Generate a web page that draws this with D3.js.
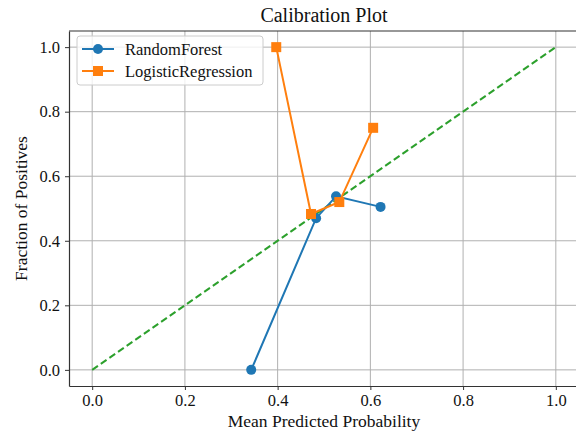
<!DOCTYPE html>
<html>
<head>
<meta charset="utf-8">
<script src="https://cdn.jsdelivr.net/npm/d3@7"></script>
<style>
  body { margin: 0; background: #fff; }
  svg { display: block; font-family: "Liberation Serif", "DejaVu Serif", serif; }
</style>
</head>
<body>
<div id="wrapper"></div>
<script>
// data
const rfX = [0.343, 0.483, 0.526, 0.622];
const rfY = [0.0, 0.470, 0.538, 0.505];
const lrX = [0.397, 0.472, 0.533, 0.606];
const lrY = [1.0, 0.483, 0.520, 0.750];
const refLine = [0, 1];
const tickVals = [0, 0.2, 0.4, 0.6, 0.8, 1.0];
const seriesNames = ["RandomForest", "LogisticRegression"];

function buildPlot() {
    const dimension = {
        width: 576,
        height: 431,
        margin: { top: 31, left: 69, bottom: 45, right: -3 }
    };
    dimension.boundedWidth = dimension.width - dimension.margin.left - dimension.margin.right;
    dimension.boundedHeight = dimension.height - dimension.margin.top - dimension.margin.bottom;

    const svg = d3.select("#wrapper").append("svg")
        .attr("width", dimension.width)
        .attr("height", dimension.height);

    const bounded = svg.append("g")
        .attr("transform", `translate(${dimension.margin.left},${dimension.margin.top})`);

    const xScaler = d3.scaleLinear().domain([-0.05, 1.05]).range([0, dimension.boundedWidth]);
    const yScaler = d3.scaleLinear().domain([-0.05, 1.05]).range([dimension.boundedHeight, 0]);

    // grid
    bounded.append("g").selectAll("line").data(tickVals).join("line")
        .attr("x1", d => xScaler(d)).attr("x2", d => xScaler(d))
        .attr("y1", 0).attr("y2", dimension.boundedHeight)
        .attr("stroke", "#b0b0b0").attr("stroke-width", 1);
    bounded.append("g").selectAll("line").data(tickVals).join("line")
        .attr("y1", d => yScaler(d)).attr("y2", d => yScaler(d))
        .attr("x1", 0).attr("x2", dimension.boundedWidth)
        .attr("stroke", "#b0b0b0").attr("stroke-width", 1);

    // perfectly calibrated
    bounded.append("line")
        .attr("x1", xScaler(refLine[0])).attr("y1", yScaler(refLine[0]))
        .attr("x2", xScaler(refLine[1])).attr("y2", yScaler(refLine[1]))
        .attr("stroke", "#2ca02c").attr("stroke-width", 2)
        .attr("stroke-dasharray", "7,3.5");

    const line = d3.line().x(d => xScaler(d[0])).y(d => yScaler(d[1]));
    const rf = rfX.map((x, i) => [x, rfY[i]]);
    const lr = lrX.map((x, i) => [x, lrY[i]]);

    bounded.append("path").attr("d", line(rf))
        .attr("fill", "none").attr("stroke", "#1f77b4").attr("stroke-width", 2);
    bounded.append("g").selectAll("circle").data(rf).join("circle")
        .attr("cx", d => xScaler(d[0])).attr("cy", d => yScaler(d[1]))
        .attr("r", 5).attr("fill", "#1f77b4");

    bounded.append("path").attr("d", line(lr))
        .attr("fill", "none").attr("stroke", "#ff7f0e").attr("stroke-width", 2);
    bounded.append("g").selectAll("rect").data(lr).join("rect")
        .attr("x", d => xScaler(d[0]) - 5).attr("y", d => yScaler(d[1]) - 5)
        .attr("width", 10).attr("height", 10).attr("fill", "#ff7f0e");

    // axes
    const xAxis = bounded.append("g")
        .attr("transform", `translate(0,${dimension.boundedHeight})`)
        .call(d3.axisBottom(xScaler).tickValues(tickVals).tickFormat(d3.format(".1f"))
            .tickSize(4).tickSizeOuter(0).tickPadding(4));
    const yAxis = bounded.append("g")
        .call(d3.axisLeft(yScaler).tickValues(tickVals).tickFormat(d3.format(".1f"))
            .tickSize(4).tickSizeOuter(0).tickPadding(5));
    [xAxis, yAxis].forEach(a => {
        a.selectAll("text").attr("font-size", 16.5).attr("fill", "#111").attr("font-family", "Liberation Serif");
        a.selectAll("line").attr("stroke", "#333");
        a.select(".domain").attr("stroke", "#333").attr("stroke-width", 1.2);
    });
    // top spine
    bounded.append("line")
        .attr("x1", 0).attr("x2", dimension.boundedWidth).attr("y1", 0).attr("y2", 0)
        .attr("stroke", "#333").attr("stroke-width", 1.2);

    // legend
    const legend = bounded.append("g").attr("transform", "translate(8,5)");
    legend.append("rect")
        .attr("width", 186).attr("height", 49).attr("rx", 3)
        .attr("fill", "white").attr("fill-opacity", 0.8)
        .attr("stroke", "#ccc");
    const colors = ["#1f77b4", "#ff7f0e"];
    seriesNames.forEach((name, i) => {
        const y = 13 + i * 22;
        legend.append("line").attr("x1", 5).attr("x2", 37).attr("y1", y).attr("y2", y)
            .attr("stroke", colors[i]).attr("stroke-width", 2);
        if (i === 0) {
            legend.append("circle").attr("cx", 21).attr("cy", y).attr("r", 5).attr("fill", colors[i]);
        } else {
            legend.append("rect").attr("x", 16).attr("y", y - 5).attr("width", 10).attr("height", 10).attr("fill", colors[i]);
        }
        legend.append("text").attr("x", 48).attr("y", y + 5.5)
            .attr("font-size", 16.5).attr("fill", "#111").text(name);
    });

    // title & labels
    svg.append("text")
        .attr("x", 324).attr("y", 22)
        .attr("text-anchor", "middle").attr("font-size", 20).attr("fill", "#111")
        .text("Calibration Plot");
    svg.append("text")
        .attr("x", 324).attr("y", 427)
        .attr("text-anchor", "middle").attr("font-size", 17.5).attr("fill", "#111")
        .text("Mean Predicted Probability");
    svg.append("text")
        .attr("transform", `translate(27,${yScaler(0.5) + dimension.margin.top}) rotate(-90)`)
        .attr("text-anchor", "middle").attr("font-size", 17.5).attr("fill", "#111")
        .text("Fraction of Positives");
}

buildPlot();
</script>
</body>
</html>
